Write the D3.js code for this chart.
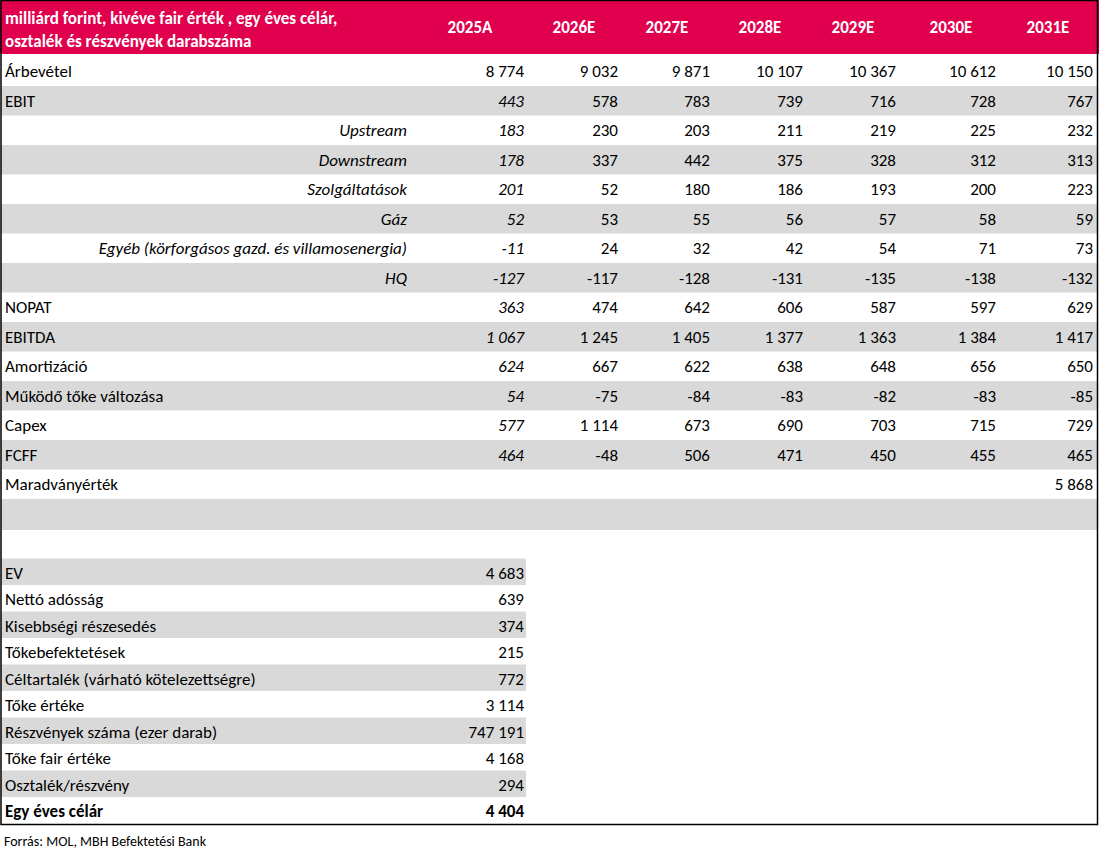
<!DOCTYPE html>
<html><head><meta charset="utf-8">
<script src="https://cdn.jsdelivr.net/npm/d3@7"></script>
<style>body{margin:0;background:#fff}</style>
</head><body><div id="chart"></div>
<script>
const years = ["2025A", "2026E", "2027E", "2028E", "2029E", "2030E", "2031E"];
const headerTitle = ["milliárd forint, kivéve fair érték , egy éves célár,", "osztalék és részvények darabszáma"];
const rowLabels = ["Árbevétel", "EBIT", "Upstream", "Downstream", "Szolgáltatások", "Gáz",
  "Egyéb (körforgásos gazd. és villamosenergia)", "HQ", "NOPAT", "EBITDA", "Amortizáció",
  "Működő tőke változása", "Capex", "FCFF", "Maradványérték"];
const subRows = ["Upstream", "Downstream", "Szolgáltatások", "Gáz", "Egyéb (körforgásos gazd. és villamosenergia)", "HQ"];
const rowValues = [
  ["8 774", "9 032", "9 871", "10 107", "10 367", "10 612", "10 150"],
  ["443", "578", "783", "739", "716", "728", "767"],
  ["183", "230", "203", "211", "219", "225", "232"],
  ["178", "337", "442", "375", "328", "312", "313"],
  ["201", "52", "180", "186", "193", "200", "223"],
  ["52", "53", "55", "56", "57", "58", "59"],
  ["-11", "24", "32", "42", "54", "71", "73"],
  ["-127", "-117", "-128", "-131", "-135", "-138", "-132"],
  ["363", "474", "642", "606", "587", "597", "629"],
  ["1 067", "1 245", "1 405", "1 377", "1 363", "1 384", "1 417"],
  ["624", "667", "622", "638", "648", "656", "650"],
  ["54", "-75", "-84", "-83", "-82", "-83", "-85"],
  ["577", "1 114", "673", "690", "703", "715", "729"],
  ["464", "-48", "506", "471", "450", "455", "465"],
  ["", "", "", "", "", "", "5 868"]
];
const valLabels = ["EV", "Nettó adósság", "Kisebbségi részesedés", "Tőkebefektetések",
  "Céltartalék (várható kötelezettségre)", "Tőke értéke", "Részvények száma (ezer darab)",
  "Tőke fair értéke", "Osztalék/részvény", "Egy éves célár"];
const valValues = ["4 683", "639", "374", "215", "772", "3 114", "747 191", "4 168", "294", "4 404"];
const source = "Forrás: MOL, MBH Befektetési Bank";

const W = 1099, H = 854, font = "Carlito, Lato, 'Noto Sans', sans-serif";
const red = "#e0004d", grey = "#d9d9d9";
const svg = d3.select("#chart").append("svg").attr("width", W).attr("height", H)
  .style("font-family", font).style("font-size", "17px");

// columns: right edges for values, centers for headers
const colRights = [524, 618, 710, 803, 896, 996, 1093];
const colCenters = [470, 574, 667, 760, 853, 951, 1048];
const y = d3.scaleLinear().domain([0, 1]).range([56.5, 86]);
const rowH = y(1) - y(0);

svg.append("rect").attr("x", 0).attr("y", 0).attr("width", W).attr("height", 54).attr("fill", red);
svg.selectAll("text.ht").data(headerTitle).enter().append("text")
  .attr("x", 5).attr("y", (d, i) => 18 + i * 23).attr("dy", "0.35em")
  .attr("fill", "#fff").attr("font-weight", "bold").text(d => d);
svg.selectAll("text.yr").data(years).enter().append("text")
  .attr("x", (d, i) => colCenters[i]).attr("y", 27).attr("dy", "0.35em").attr("text-anchor", "middle")
  .attr("fill", "#fff").attr("font-weight", "bold").text(d => d);

// top table
const mainG = svg.append("g");
rowLabels.forEach((lab, r) => {
  if (r % 2 === 1) mainG.append("rect").attr("x", 1).attr("y", y(r)).attr("width", W - 2).attr("height", rowH).attr("fill", grey);
});
mainG.append("rect").attr("x", 1).attr("y", y(rowLabels.length)).attr("width", W - 2).attr("height", 31).attr("fill", grey);
rowLabels.forEach((lab, r) => {
  const sub = subRows.includes(lab);
  const cy = y(r) + rowH / 2;
  mainG.append("text").attr("x", sub ? 407 : 5).attr("y", cy).attr("dy", "0.35em")
    .attr("text-anchor", sub ? "end" : "start").attr("font-style", sub ? "italic" : null).text(lab);
  rowValues[r].forEach((v, c) => {
    mainG.append("text").attr("x", colRights[c]).attr("y", cy).attr("dy", "0.35em").attr("text-anchor", "end")
      .attr("font-style", c === 0 && r > 0 ? "italic" : null).text(v);
  });
});

// valuation table
const y2 = d3.scaleLinear().domain([0, 1]).range([558.5, 585]);
const rh2 = y2(1) - y2(0);
valLabels.forEach((lab, r) => {
  if (r % 2 === 0) svg.append("rect").attr("x", 1).attr("y", y2(r)).attr("width", 525).attr("height", rh2).attr("fill", grey);
  const cy = y2(r) + rh2 / 2 + 1;
  const last = r === valLabels.length - 1;
  svg.append("text").attr("x", 5).attr("y", cy).attr("dy", "0.35em").attr("font-weight", last ? "bold" : null).text(lab);
  svg.append("text").attr("x", 524).attr("y", cy).attr("dy", "0.35em").attr("text-anchor", "end")
    .attr("font-weight", last ? "bold" : null).text(valValues[r]);
});

// borders
svg.append("rect").attr("x", 1).attr("y", 0.5).attr("width", W - 2.5).attr("height", 824)
  .attr("fill", "none").attr("stroke", "#000").attr("stroke-width", 1.5);
svg.append("text").attr("x", 4).attr("y", 841).attr("dy", "0.35em").style("font-size", "14px").text(source);
</script></body></html>
